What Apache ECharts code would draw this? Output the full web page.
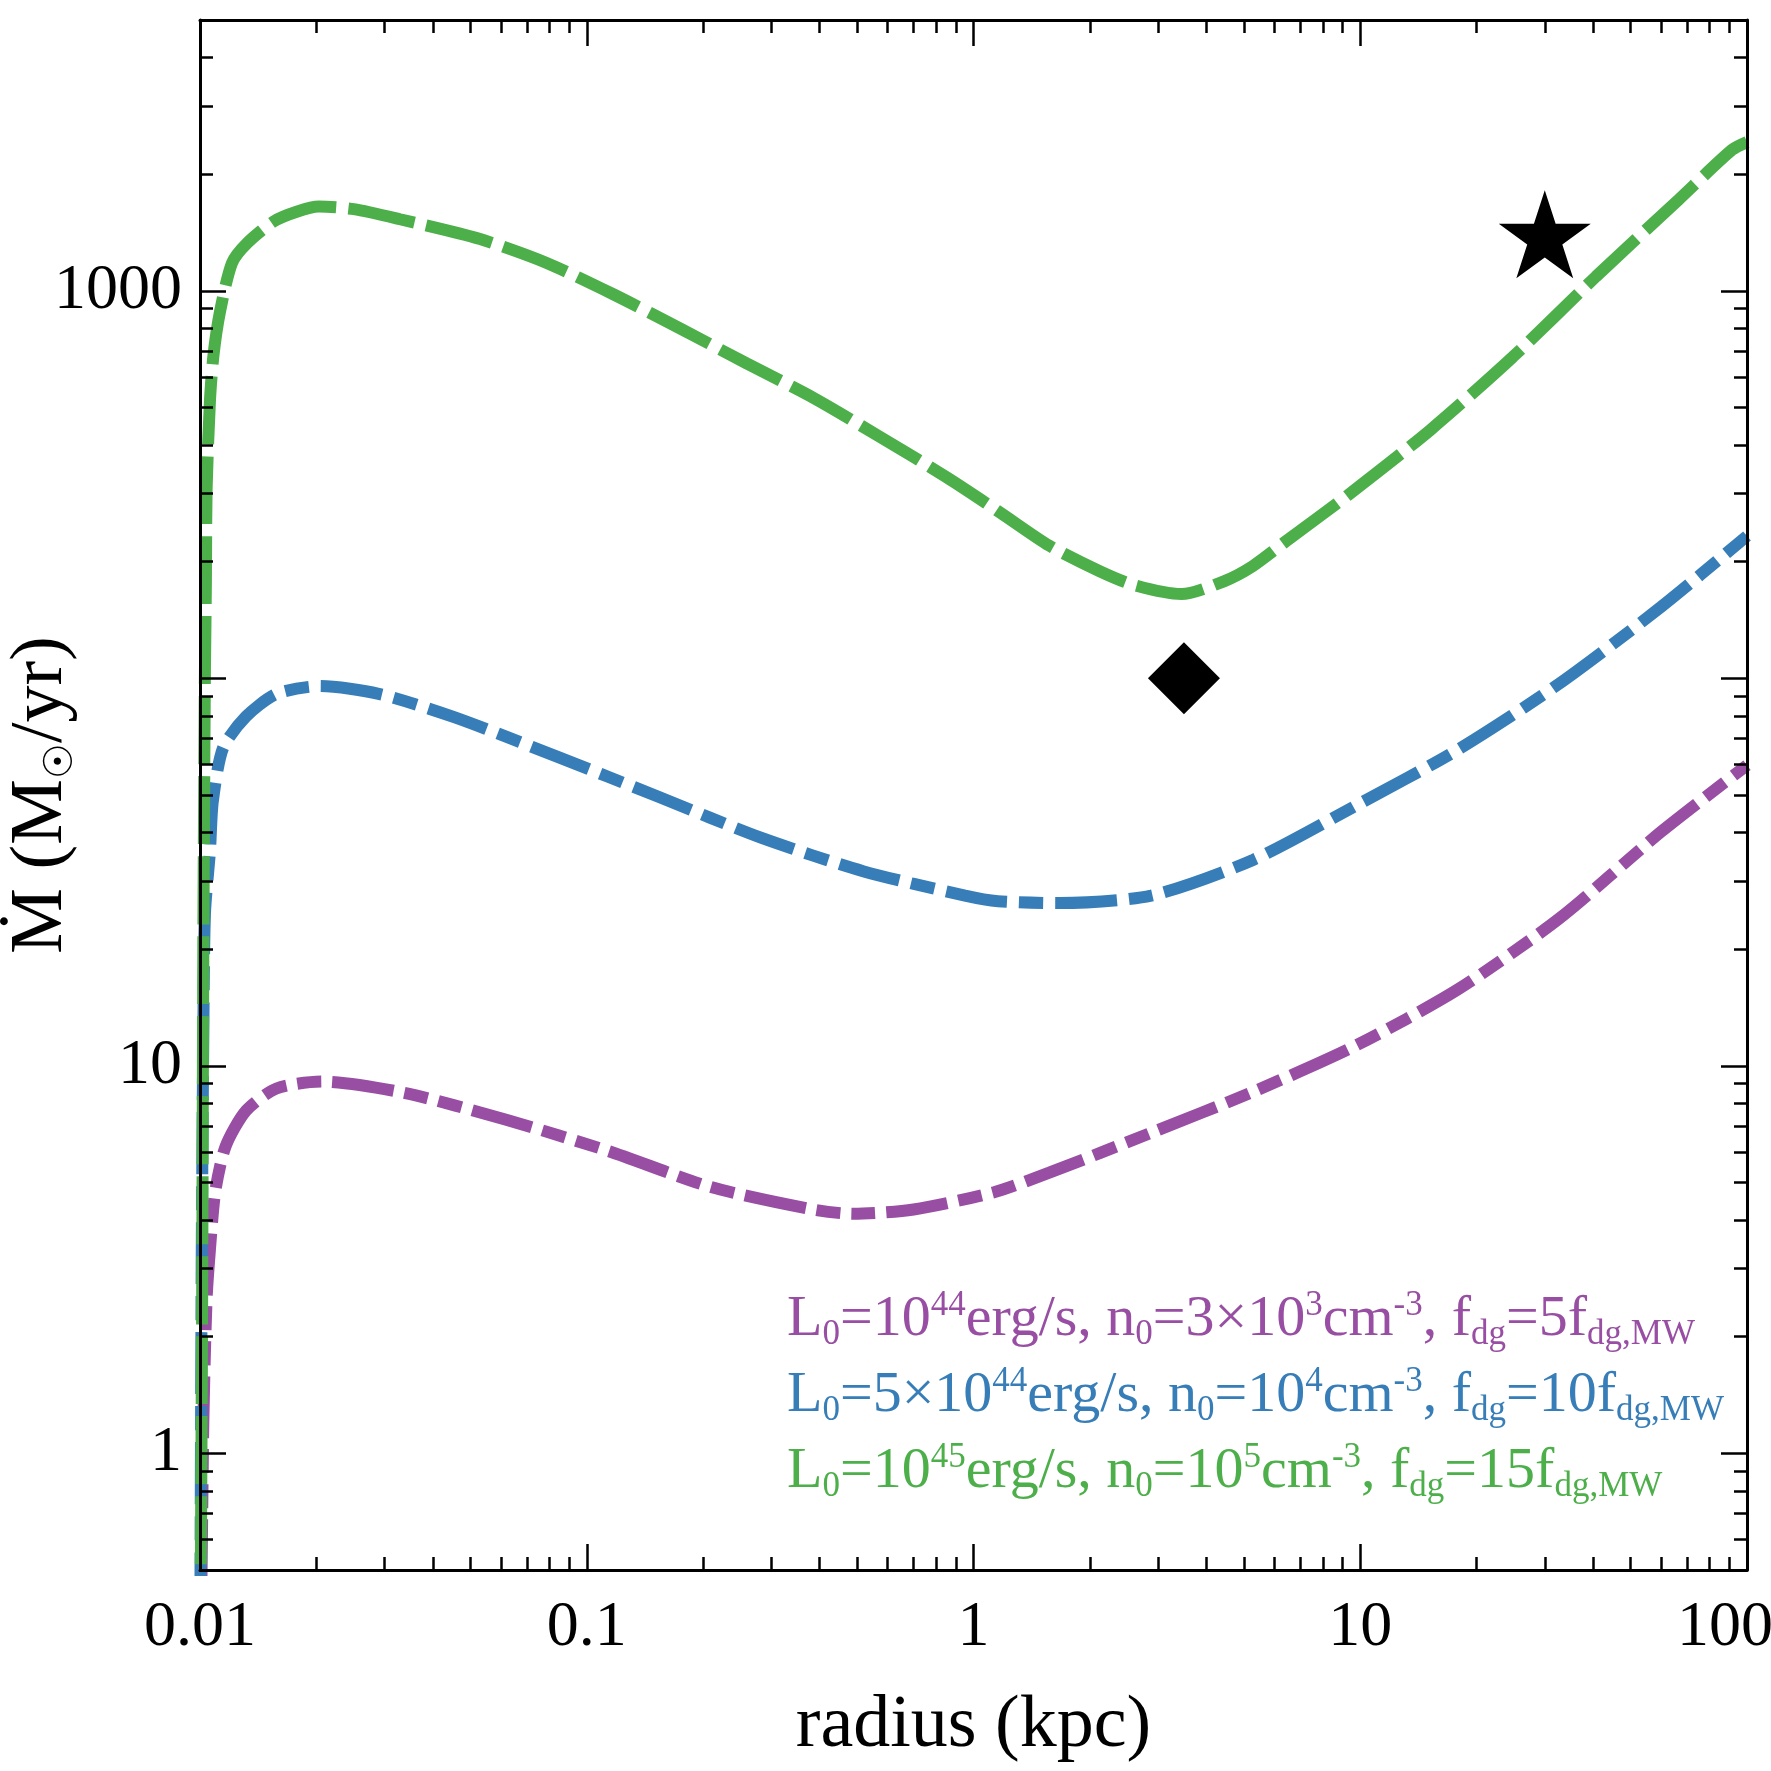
<!DOCTYPE html>
<html><head><meta charset="utf-8">
<script src="https://cdn.jsdelivr.net/npm/echarts@6/dist/echarts.min.js"></script>
<style>html,body{margin:0;padding:0;background:#fff}#c{width:1771px;height:1771px}</style>
</head><body><div id="c"></div>
<script>
// ---------------- data ----------------
const radiusPurple = [0.01, 0.0102, 0.0104, 0.01061, 0.01095, 0.01164, 0.01315, 0.01577, 0.0207, 0.0337, 0.0619, 0.1137, 0.2088, 0.3835, 0.489, 0.70, 1.13, 1.57, 2.88, 5.28, 9.69, 17.8, 32.7, 60, 100];
const mdotPurple   = [0.2, 1.2, 2.5, 3.36, 4.74, 6.19, 7.66, 8.74, 9.11, 8.52, 7.26, 6.03, 4.87, 4.26, 4.15, 4.26, 4.72, 5.3, 6.72, 8.57, 11.25, 15.7, 24.0, 40.2, 59.7];

const radiusBlue = [0.01, 0.0101, 0.0102, 0.0103, 0.01061, 0.01079, 0.01147, 0.01315, 0.01577, 0.02043, 0.02896, 0.0456, 0.0838, 0.1538, 0.282, 0.518, 0.951, 1.157, 1.666, 2.88, 5.28, 9.69, 17.8, 32.7, 60, 100];
const mdotBlue   = [0.2, 3, 12, 24.7, 35.8, 48, 66.1, 79.7, 91.2, 95.5, 91.2, 79.3, 62.8, 49.4, 38.8, 31.8, 27.5, 26.6, 26.3, 27.5, 34.0, 46.8, 65.3, 96.9, 153, 233];

const radiusGreen = [0.01, 0.01012, 0.0102, 0.01026, 0.0103, 0.01036, 0.0104, 0.01061, 0.01083, 0.01126, 0.0121, 0.01323, 0.0155, 0.01778, 0.0203, 0.025, 0.0329, 0.053, 0.0788, 0.1171, 0.1742, 0.2591, 0.385, 0.573, 0.853, 1.171, 1.57, 2.12, 2.6, 3.45, 4.44, 5.28, 6.43, 9.29, 15.2, 24.8, 40.7, 66.5, 91.4, 100];
const mdotGreen   = [0.2, 2, 20, 60, 106, 180, 306, 520, 679, 882, 1180, 1327, 1510, 1600, 1650, 1625, 1530, 1360, 1180, 980, 800, 650, 530, 420, 330, 268, 220, 189, 174, 165, 178, 195, 226, 297, 438, 675, 1089, 1718, 2310, 2420];

const starPoint    = [30, 1400];
const diamondPoint = [3.5, 100];

const xRange = [0.01, 100];
const yRange = [0.5, 5000];
const xMajorTicks = [0.01, 0.1, 1, 10, 100];
const xTickLabels = ['0.01', '0.1', '1', '10', '100'];
const xMinorTicks = [0.02,0.03,0.04,0.05,0.06,0.07,0.08,0.09, 0.2,0.3,0.4,0.5,0.6,0.7,0.8,0.9, 2,3,4,5,6,7,8,9, 20,30,40,50,60,70,80,90];
const yMajorTicks = [1, 10, 100, 1000];
const yLabelTicks = [1, 10, 1000];
const yTickLabels = ['1', '10', '1000'];
const yMinorTicks = [0.6,0.7,0.8,0.9, 2,3,4,5,6,7,8,9, 20,30,40,50,60,70,80,90, 200,300,400,500,600,700,800,900, 2000,3000,4000];

const legendTexts = [
  'L{sub|0}=10{sup|44}erg/s, n{sub|0}=3×10{sup|3}cm{sup|-3}, f{sub|dg}=5f{sub|dg,MW}',
  'L{sub|0}=5×10{sup|44}erg/s, n{sub|0}=10{sup|4}cm{sup|-3}, f{sub|dg}=10f{sub|dg,MW}',
  'L{sub|0}=10{sup|45}erg/s, n{sub|0}=10{sup|5}cm{sup|-3}, f{sub|dg}=15f{sub|dg,MW}'
];
const xTitle = 'radius (kpc)';
const yTitle = '{t|Ṁ (M}{s|☉}{t|/yr)}';

// ---------------- style ----------------
const SERIF = "'Liberation Serif','DejaVu Serif',serif";
const PURPLE = '#984EA3', BLUE = '#377EB8', GREEN = '#4DAF4A';
const seriesColors = [PURPLE, BLUE, GREEN];
const lg = Math.log10;
const zip = (a, b) => a.map((v, i) => [v, b[i]]);
function labelFor(v, ticks, labels) {
  for (let i = 0; i < ticks.length; i++) {
    if (Math.abs(lg(v) - lg(ticks[i])) < 1e-6) return labels[i];
  }
  return '';
}
function tickAxis(pos, ticks, len, range, showLine) {
  return {
    type: 'value', position: pos, min: lg(range[0]), max: lg(range[1]), z: 10, silent: true,
    axisLine: { show: showLine, onZero: false, lineStyle: { color: '#000', width: 3 } },
    axisLabel: { show: false }, splitLine: { show: false },
    axisTick: { show: true, inside: true, length: len, lineStyle: { color: '#000', width: 2.5 },
                customValues: ticks.map(lg) }
  };
}

const option = {
  animation: false,
  backgroundColor: '#fff',
  grid: { left: 200, right: 24, top: 20, bottom: 201, show: false, containLabel: false, outerBoundsMode: 'none' },
  title: legendTexts.map((txt, i) => ({
    text: txt, left: 787, top: [1288, 1364, 1440][i], padding: 0,
    textStyle: {
      color: seriesColors[i], fontFamily: SERIF, fontSize: 58, fontWeight: 'normal', lineHeight: 64,
      rich: {
        sub: { color: seriesColors[i], fontFamily: SERIF, fontSize: 35, lineHeight: 35, verticalAlign: 'bottom' },
        sup: { color: seriesColors[i], fontFamily: SERIF, fontSize: 35, lineHeight: 35, verticalAlign: 'top' }
      }
    }
  })),
  xAxis: [
    {
      type: 'log', logBase: 10, min: xRange[0], max: xRange[1], position: 'bottom',
      axisLine: { show: false, onZero: false }, axisTick: { show: false }, splitLine: { show: false },
      axisLabel: {
        margin: 26, color: '#000', fontFamily: SERIF, fontSize: 64,
        formatter: v => { const s = labelFor(v, xMajorTicks, xTickLabels); return s === '100' ? '{r|100}' : s; },
        rich: { r: { color: '#000', fontFamily: SERIF, fontSize: 64, padding: [0, 44, 0, 0] } }
      },
      name: xTitle, nameLocation: 'middle', nameGap: 120, nameMoveOverlap: false,
      nameTextStyle: { color: '#000', fontFamily: SERIF, fontSize: 74 }
    },
    tickAxis('bottom', xMajorTicks, 26, xRange, true),
    tickAxis('top', xMajorTicks, 26, xRange, true),
    tickAxis('bottom', xMinorTicks, 13, xRange, false),
    tickAxis('top', xMinorTicks, 13, xRange, false)
  ],
  yAxis: [
    {
      type: 'log', logBase: 10, min: yRange[0], max: yRange[1], position: 'left',
      axisLine: { show: false, onZero: false }, axisTick: { show: false }, splitLine: { show: false },
      axisLabel: {
        margin: 18, color: '#000', fontFamily: SERIF, fontSize: 64,
        formatter: v => labelFor(v, yLabelTicks, yTickLabels)
      },
      name: yTitle, nameLocation: 'middle', nameGap: 118, nameRotate: 90, nameMoveOverlap: false,
      nameTextStyle: {
        color: '#000', fontFamily: SERIF, fontSize: 74,
        rich: {
          t: { color: '#000', fontFamily: SERIF, fontSize: 74, lineHeight: 80 },
          s: { color: '#000', fontFamily: "'DejaVu Sans',sans-serif", fontSize: 40, lineHeight: 40, verticalAlign: 'bottom' }
        }
      }
    },
    tickAxis('left', yMajorTicks, 26, yRange, true),
    tickAxis('right', yMajorTicks, 26, yRange, true),
    tickAxis('left', yMinorTicks, 13, yRange, false),
    tickAxis('right', yMinorTicks, 13, yRange, false)
  ],
  series: [
    { type: 'line', xAxisIndex: 0, yAxisIndex: 0, data: zip(radiusPurple, mdotPurple), symbol: 'none', smooth: 0.25,
      lineStyle: { color: PURPLE, width: 12, type: [62, 11, 24, 11, 24, 11], cap: 'butt' }, z: 2 },
    { type: 'line', xAxisIndex: 0, yAxisIndex: 0, data: zip(radiusBlue, mdotBlue), symbol: 'none', smooth: 0.25,
      lineStyle: { color: BLUE, width: 12, type: [62, 12, 24, 12], cap: 'butt' }, z: 3 },
    { type: 'line', xAxisIndex: 0, yAxisIndex: 0, data: zip(radiusGreen, mdotGreen), symbol: 'none', smooth: 0.25,
      lineStyle: { color: GREEN, width: 12, type: [68, 12], cap: 'butt' }, z: 4 },
    { type: 'scatter', xAxisIndex: 0, yAxisIndex: 0, data: [starPoint],
      symbol: 'path://M0,-100 L22.45,-30.9 L95.1,-30.9 L36.3,11.8 L58.8,80.9 L0,38.2 L-58.8,80.9 L-36.3,11.8 L-95.1,-30.9 L-22.45,-30.9 Z',
      symbolSize: [92, 88], itemStyle: { color: '#000', opacity: 1 }, z: 5 },
    { type: 'scatter', xAxisIndex: 0, yAxisIndex: 0, data: [diamondPoint],
      symbol: 'diamond', symbolSize: [72, 72], itemStyle: { color: '#000', opacity: 1 }, z: 5 }
  ]
};

const chart = echarts.init(document.getElementById('c'), null, { renderer: 'canvas' });
chart.setOption(option);
</script>
</body></html>
